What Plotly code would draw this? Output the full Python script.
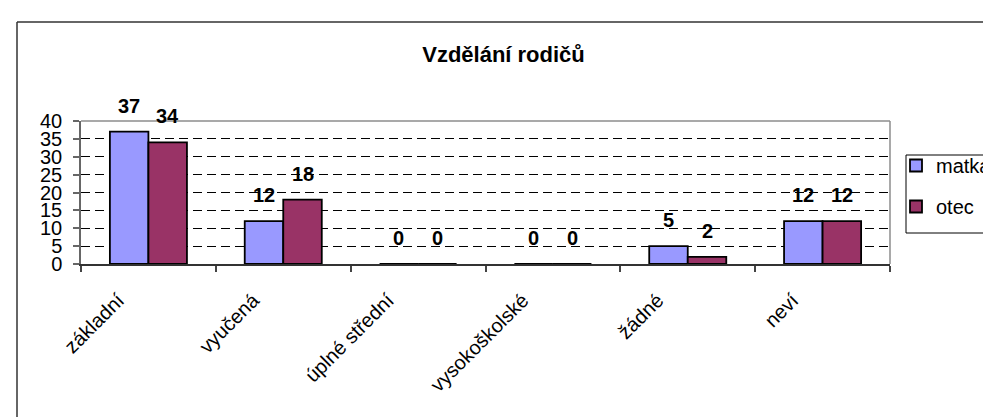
import plotly.graph_objects as go

categories = ["základní", "vyučená", "úplné střední", "vysokoškolské", "žádné", "neví"]
matka = [37, 12, 0, 0, 5, 12]
otec = [34, 18, 0, 0, 2, 12]
series_names = ["matka", "otec"]
series_colors = ["#9999FF", "#993366"]
title_text = "Vzdělání rodičů"
y_ticks = [0, 5, 10, 15, 20, 25, 30, 35, 40]

W, H = 991, 417
PL, PR, PT, PB = 73, 882, 113, 256  # plot area in px
FONT = "Liberation Sans, Arial, sans-serif"
BARGAP = 1.5 / 3.5

fig = go.Figure()
for i, (name, vals) in enumerate(zip(series_names, [matka, otec])):
    fig.add_trace(go.Bar(
        x=categories, y=vals, name=name, legendgroup=name,
        marker=dict(color=series_colors[i], line=dict(color="#000000", width=1.8)),
    ))

# data labels above bars
cat_px = (PR - PL) / len(categories)
bar_px = cat_px * (1 - BARGAP) / 2
for i, vals in enumerate([matka, otec]):
    shift = (i - 0.5) * bar_px
    for c, v in zip(categories, vals):
        fig.add_annotation(x=c, y=v, text=f"<b>{v}</b>", showarrow=False,
                           xshift=shift, yshift=26, yanchor="middle",
                           font=dict(size=20, color="#000", family=FONT))

fig.update_layout(
    width=W, height=H, margin=dict(l=0, r=0, t=0, b=0, autoexpand=False),
    paper_bgcolor="white", plot_bgcolor="white",
    font=dict(family=FONT, color="#000"),
    barmode="group", bargap=BARGAP, bargroupgap=0,
    title=dict(text=f"<b>{title_text}</b>", x=0.5, xanchor="center",
               y=1 - 46 / H, yanchor="middle", yref="paper",
               font=dict(size=22, family=FONT, color="#000")),
    xaxis=dict(domain=[PL / W, PR / W], type="category", tickson="boundaries",
               automargin=False,
               ticks="outside", ticklen=6, tickcolor="#444", tickwidth=1.5,
               showline=True, linecolor="#333", linewidth=1.5,
               tickangle=-45, tickfont=dict(size=20, family=FONT, color="#000"),
               ticklabelstandoff=15, ticklabelshift=-30,
               showgrid=False),
    yaxis=dict(domain=[1 - PB / H, 1 - PT / H], range=[0, 40], tickvals=y_ticks,
               automargin=False,
               ticks="outside", ticklen=6, tickcolor="#666", tickwidth=1.5,
               showline=True, linecolor="#666", linewidth=1.5,
               showgrid=True, gridcolor="#000", gridwidth=1, griddash="9px,5px",
               zeroline=False, ticklabelstandoff=7,
               tickfont=dict(size=20, family=FONT, color="#000")),
    legend=dict(x=888 / W, y=1 - 138 / H, xanchor="left", yanchor="top",
                borderwidth=0, bgcolor="rgba(0,0,0,0)",
                font=dict(size=20, family=FONT, color="#000"),
                traceorder="grouped", tracegroupgap=12, itemwidth=30),
    shapes=[
        # legend frame
        dict(type="rect", xref="paper", yref="paper", x0=898 / W, x1=1.02,
             y0=1 - 225 / H, y1=1 - 147 / H, line=dict(color="#000", width=1),
             fillcolor="white", layer="below"),
        # plot area border (top, right)
        dict(type="line", xref="x domain", yref="y domain", x0=0, x1=1, y0=1, y1=1,
             line=dict(color="#8c8c8c", width=1.5), layer="above"),
        dict(type="line", xref="x domain", yref="y domain", x0=1, x1=1, y0=0, y1=1,
             line=dict(color="#8c8c8c", width=1.5), layer="above"),
        # chart outer border (top, left)
        dict(type="line", xref="paper", yref="paper", x0=9 / W, x1=1.01,
             y0=1 - 14 / H, y1=1 - 14 / H, line=dict(color="#333", width=1.5)),
        dict(type="line", xref="paper", yref="paper", x0=9 / W, x1=9 / W,
             y0=-0.01, y1=1 - 14 / H, line=dict(color="#333", width=1.5)),
    ],
)

fig.write_html("out.html")
